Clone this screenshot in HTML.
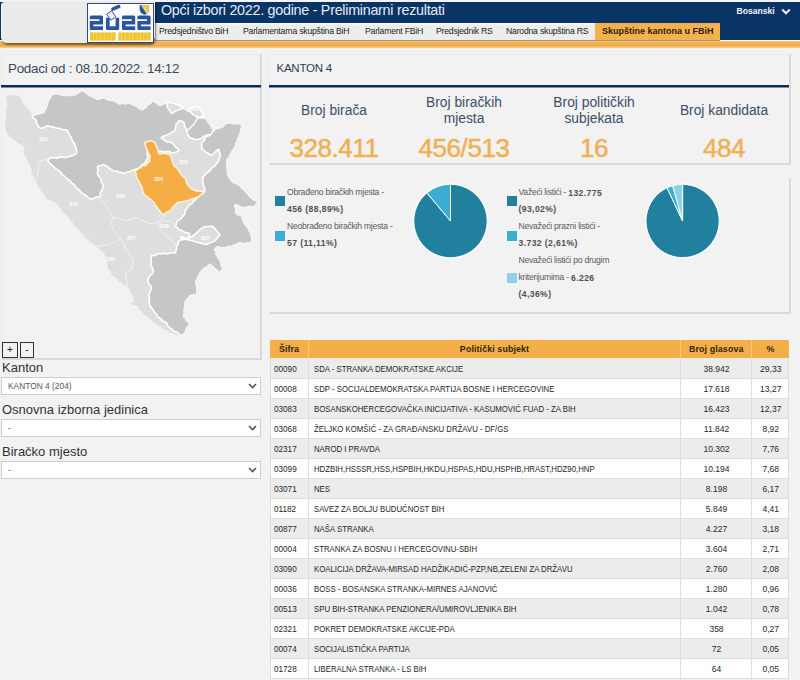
<!DOCTYPE html>
<html><head><meta charset="utf-8">
<style>
*{box-sizing:border-box;margin:0;padding:0}
html,body{width:800px;height:680px;overflow:hidden;background:#f2f2f2;font-family:"Liberation Sans",sans-serif;position:relative}
.abs{position:absolute}
#topline{left:0;top:0;width:800px;height:2px;background:#f4f4f4}
#navy{left:0;top:2px;width:800px;height:38px;background:#0b3466}
#orange{left:0;top:40px;width:800px;height:9px;background:linear-gradient(#fdf6e6 0,#fdf6e6 1px,#f1b75e 1.6px,#f3b14c 3px,#efae4c 6px,#f2c07a 7.4px,#fbf1e0 8px,#f2f2f2 9px)}
#logobox{left:1px;top:2px;width:154px;height:40.5px;background:#ebebeb;border-left:1px solid #f8fafc;border-radius:4px 0 6px 6px;box-shadow:1px 1.5px 2px rgba(0,0,0,.5)}
#logo{left:87px;top:3px;width:67px;height:40px;background:#fff;border:1px solid #30466e;box-shadow:1px 1px 1px rgba(0,0,0,.4)}
#title{left:161px;top:2px;font-size:14.3px;letter-spacing:-0.26px;line-height:16px;color:#e2ecf7;white-space:nowrap}
#tabs{left:155px;top:22.5px;width:440px;height:17.5px;background:linear-gradient(#fbfbfb 0,#fbfbfb 1px,#ededed 2px,#ececec 100%)}
.tab{position:absolute;top:21.8px;height:18px;font-size:8.7px;letter-spacing:-0.23px;line-height:18px;color:#1c1c1c;white-space:nowrap}
#tabact{left:595px;top:22.5px;width:125px;height:17.5px;background:#f5b14e}
#lang{left:736.5px;top:4px;font-size:8.6px;font-weight:bold;color:#eef4fb;line-height:14px}
.panel{position:absolute;background:#f2f2f2;border-top:1px solid #e8e8e8;border-left:1px solid #ededed;border-right:2px solid #d9d9d9;border-bottom:2px solid #d9d9d9}
.bline{position:absolute;height:3px;background:linear-gradient(#0d2b4e 0,#0d2b4e 2px,#8090a4 2.5px,#dfe4ea 3px)}
.lbl{position:absolute;left:2px;font-size:13px;line-height:15px;color:#333}
.sel{position:absolute;left:1px;width:260px;height:18px;background:#fff;border:1px solid #cdcdcd;font-size:8.4px;line-height:16.4px;color:#555;padding-left:6px}
.sel svg{position:absolute;right:3px;top:5px}
.st{position:absolute;width:130px;text-align:center;font-size:13.8px;line-height:15.4px;color:#3c4e66}
.num{position:absolute;width:130px;text-align:center;font-size:26px;letter-spacing:-0.45px;line-height:26px;color:#f0b052;-webkit-text-stroke:0.5px #f0b052;margin-top:-2.1px}
.lg{position:absolute;font-size:8.6px;letter-spacing:-0.24px;line-height:16.5px;color:#5a5a5a;white-space:nowrap;margin-top:0.8px}
.lg b{color:#505050;font-size:8.6px;letter-spacing:0.4px;position:relative;top:0.8px}
.sq{position:absolute;width:10px;height:10px}
#tbl{left:270px;top:340px;width:519px;height:340px}
.th{position:absolute;top:340px;height:18px;background:#f5af48;font-size:8.9px;font-weight:bold;line-height:19.6px;letter-spacing:0.1px;text-align:center;color:#2e2410}
.tr{position:absolute;left:270px;width:519px;height:20px;border-bottom:1px solid #dedede;font-size:9px;line-height:19px;color:#262626}
.tr.g{background:#ececec}
.tr.w{background:#fff}
.tr span{position:absolute;top:1.2px;white-space:nowrap}
.r1 span{top:2.2px}
.c1{left:4px;transform:scaleX(0.907);transform-origin:0 0}
.c2{left:43.5px;transform:scaleX(0.865);transform-origin:0 0}
.c3{left:410.5px;width:71px;text-align:center;transform:scaleX(0.945)}
.c4{left:481.5px;width:37.5px;text-align:center;transform:scaleX(0.945)}
.vl{position:absolute;top:340px;width:1px;height:340px;background:#dedede}
</style></head><body>
<div class="abs" id="topline"></div>
<div class="abs" id="navy"></div>
<div class="abs" id="tabs"></div>
<div class="abs" id="tabact"></div>
<div class="abs" id="orange"></div>
<div class="abs" style="left:155px;top:40px;width:565px;height:1.2px;background:#8a7058;opacity:.75"></div>
<div class="abs" id="logobox"></div>
<svg class="abs" style="left:87px;top:3px" width="67" height="40" viewBox="0 0 67 40">
<rect x="0.5" y="0.5" width="66" height="39" fill="#fbfdff" stroke="#34497a" stroke-width="1"/>
<path d="M4.30 12.6 H14.50 Q16.00 12.6 16.00 14.10 V21.55 H6.40 V23.30 H16.00 V26.9 H4.00 Q2.8 26.9 2.8 25.70 V17.95 H12.40 V16.20 H2.8 V14.10 Q2.8 12.6 4.30 12.6 Z" fill="#2b54a0"/>
<path d="M19 14.8 H22.60 V23.30 H28.60 V14.8 H32.20 V25.40 Q32.20 26.9 30.70 26.9 H20.50 Q19 26.9 19 25.40 Z" fill="#2b54a0"/>
<path d="M36.50 12.6 H46.70 Q48.20 12.6 48.20 14.10 V21.55 H38.60 V23.30 H48.20 V26.9 H36.20 Q35 26.9 35 25.70 V17.95 H44.60 V16.20 H35 V14.10 Q35 12.6 36.50 12.6 Z" fill="#2b54a0"/>
<path d="M51.90 12.6 H62.10 Q63.60 12.6 63.60 14.10 V21.55 H54.00 V23.30 H63.60 V26.9 H51.60 Q50.4 26.9 50.4 25.70 V17.95 H60.00 V16.20 H50.4 V14.10 Q50.4 12.6 51.90 12.6 Z" fill="#2b54a0"/>
<g transform="translate(24.3,12.6) rotate(-35)"><rect x="-3" y="-3.8" width="6" height="7.4" fill="#e9eff9" stroke="#2b54a0" stroke-width="0.9"/></g>
<g transform="translate(28.8,4.8) rotate(-24)"><rect x="-4.8" y="-1.7" width="9.6" height="3.4" rx="1.2" fill="#2b54a0"/></g>
<path d="M52.8 2 H61.8 V7 Q61.8 10.6 57.6 11.8 Q52.8 10.4 52.6 6 Z" fill="#2b54a0"/>
<path d="M55 2 H61.8 V7 Q61.8 9.5 60 10.8 Z" fill="#f3cc3d"/>
<path d="M54.6 2.4 L60.2 10.6" stroke="#fff" stroke-width="0.9"/>
<rect x="3" y="29.4" width="25.5" height="8.2" fill="#f6d766"/>
<rect x="3.0" y="29.6" width="3.0" height="7.8" fill="#eec534"/>
<rect x="6.8" y="29.6" width="2.6" height="7.8" fill="#eec534"/>
<rect x="10.2" y="29.6" width="3.0" height="7.8" fill="#eec534"/>
<rect x="14.0" y="29.6" width="3.4" height="7.8" fill="#eec534"/>
<rect x="18.2" y="29.6" width="2.6" height="7.8" fill="#eec534"/>
<rect x="21.6" y="29.6" width="2.6" height="7.8" fill="#eec534"/>
<rect x="25.0" y="29.6" width="3.4" height="7.8" fill="#eec534"/>
<rect x="31.5" y="29.4" width="32.0" height="8.2" fill="#f6d766"/>
<rect x="31.5" y="29.6" width="2.6" height="7.8" fill="#eec534"/>
<rect x="34.9" y="29.6" width="3.0" height="7.8" fill="#eec534"/>
<rect x="38.7" y="29.6" width="3.4" height="7.8" fill="#eec534"/>
<rect x="42.9" y="29.6" width="2.6" height="7.8" fill="#eec534"/>
<rect x="46.3" y="29.6" width="3.4" height="7.8" fill="#eec534"/>
<rect x="50.5" y="29.6" width="2.6" height="7.8" fill="#eec534"/>
<rect x="53.9" y="29.6" width="2.6" height="7.8" fill="#eec534"/>
<rect x="57.3" y="29.6" width="2.6" height="7.8" fill="#eec534"/>
<rect x="60.7" y="29.6" width="2.8" height="7.8" fill="#eec534"/>
</svg>
<div class="abs" id="title">Opći izbori 2022. godine - Preliminarni rezultati</div>
<div class="tab" style="left:159px">Predsjedništvo BiH</div>
<div class="tab" style="left:243px">Parlamentarna skupština BiH</div>
<div class="tab" style="left:365px">Parlament FBiH</div>
<div class="tab" style="left:436px">Predsjednik RS</div>
<div class="tab" style="left:506px">Narodna skupština RS</div>
<div class="tab" style="left:602px;top:21.6px;font-weight:bold;font-size:9px;letter-spacing:0;color:#2b2110">Skupštine kantona u FBiH</div>
<div class="abs" id="lang">Bosanski</div>
<svg class="abs" style="left:781px;top:7.5px" width="10" height="7" viewBox="0 0 10 7"><path d="M1.2 1.5 L5 5.3 L8.8 1.5" fill="none" stroke="#eef4fb" stroke-width="2"/></svg>

<!-- left panel -->
<div class="panel" style="left:1px;top:54px;width:261px;height:306px"></div>
<div class="abs" style="left:8px;top:61px;font-size:13.4px;letter-spacing:-0.26px;line-height:16px;color:#3b4a5e">Podaci od : 08.10.2022. 14:12</div>
<div class="bline" style="left:1px;top:85px;width:260px"></div>
<!--MAP--><svg class="abs" style="left:0;top:0" width="270" height="345" viewBox="0 0 270 345">
<polygon points="6.00,95.00 8.17,94.64 10.33,94.43 12.50,94.29 14.67,94.40 16.83,94.25 19.00,95.00 20.46,96.62 21.74,98.37 22.98,100.14 23.43,102.45 25.00,104.00 26.13,106.05 27.96,107.57 29.64,109.20 30.77,111.25 32.11,113.15 33.50,115.00 35.63,114.54 37.82,114.28 39.87,113.47 41.90,112.59 44.10,112.40 44.43,110.09 46.14,108.30 46.50,106.00 47.70,102.60 48.22,100.53 49.52,98.84 50.50,97.00 51.48,95.19 53.00,93.80 55.35,93.68 57.70,93.71 60.00,94.30 61.92,95.21 63.93,95.36 65.97,95.29 68.06,94.77 70.00,95.50 71.86,94.40 74.04,94.90 76.00,94.30 77.84,93.26 79.36,91.80 81.00,90.50 83.08,91.03 85.00,92.00 87.02,93.31 88.81,94.94 91.00,96.00 93.31,96.69 95.34,97.98 97.50,99.00 99.72,98.75 101.83,98.00 104.00,97.50 106.48,98.79 109.00,100.00 110.98,100.39 112.99,100.42 115.00,100.50 116.32,102.16 118.27,102.93 120.00,104.00 122.16,103.06 124.54,103.50 126.83,103.37 129.00,102.50 130.87,103.76 132.93,104.64 135.00,105.50 137.10,106.07 138.62,107.75 140.28,109.15 142.50,109.50 144.15,108.16 146.10,107.17 147.08,105.02 149.00,104.00 151.00,102.35 153.00,100.70 156.20,102.20 157.89,104.22 160.30,105.30 162.50,104.54 164.42,103.21 166.50,102.20 168.81,103.19 171.25,103.22 173.70,103.20 176.19,104.03 178.63,104.95 180.90,106.30 182.81,107.38 185.10,106.95 186.91,108.41 189.10,108.40 191.11,107.54 193.40,107.49 195.30,106.30 197.66,106.75 199.40,108.40 200.96,109.90 201.51,111.99 203.11,113.48 203.60,115.60 204.25,117.66 206.36,118.71 207.46,120.46 208.31,122.39 210.01,123.72 210.87,125.63 211.80,127.50 214.15,128.20 216.58,128.28 219.00,128.50 220.72,127.07 223.00,126.48 224.22,124.30 226.27,123.36 228.30,122.40 230.53,122.93 232.76,123.51 235.06,123.20 237.33,123.34 239.60,123.40 241.34,124.76 242.70,126.50 241.35,128.33 241.29,130.65 240.45,132.68 239.60,134.70 239.27,136.89 237.82,138.71 237.50,140.90 236.22,143.19 235.76,145.84 234.40,148.10 232.93,150.10 231.95,152.42 230.30,154.30 229.39,157.24 227.20,159.40 227.30,161.47 226.94,163.55 226.55,165.62 227.20,167.70 227.24,169.78 228.42,171.71 227.41,173.93 228.30,175.90 229.73,177.57 230.61,179.65 232.20,181.20 233.89,182.76 236.07,183.32 237.94,184.50 240.10,185.10 240.94,187.14 242.57,188.54 244.60,189.63 245.40,191.70 247.28,193.15 248.81,194.94 250.16,196.92 252.00,198.40 253.95,199.77 256.28,200.57 258.00,202.30 256.34,204.29 254.70,206.30 252.63,207.00 250.41,206.44 248.30,206.75 246.27,207.77 244.10,207.60 241.69,207.25 239.36,206.61 237.28,205.10 234.80,205.00 234.74,207.04 236.04,208.85 235.48,210.97 236.10,212.90 238.00,214.58 240.50,215.00 242.14,216.76 242.64,219.10 243.60,221.20 244.37,223.36 245.60,225.30 247.56,226.97 248.86,229.08 249.70,231.50 250.97,233.37 251.39,235.54 251.80,237.70 252.03,240.39 250.80,242.80 248.09,242.75 245.60,243.80 243.52,243.56 241.44,243.30 239.40,242.80 237.02,244.26 234.30,244.90 232.48,246.36 230.22,246.64 227.88,246.71 226.00,248.00 223.71,247.62 221.32,248.10 219.10,247.18 216.80,246.90 214.70,250.00 216.19,251.84 216.17,254.43 217.80,256.20 218.43,258.47 220.38,260.08 220.90,262.40 221.14,264.62 221.98,266.64 223.00,268.60 221.37,271.14 218.80,272.70 216.79,270.61 214.70,268.60 212.56,266.59 210.60,264.40 208.63,265.04 207.49,267.06 205.40,267.50 203.54,269.08 201.78,270.75 200.30,272.70 199.68,274.95 197.98,276.66 197.58,279.03 196.20,280.90 196.04,283.17 196.76,285.38 196.98,287.63 196.97,289.89 197.06,292.14 197.10,294.40 194.65,294.98 192.17,295.41 189.70,295.90 188.57,298.12 186.83,299.88 185.30,301.80 184.82,303.87 185.26,306.04 184.56,308.09 184.22,310.18 184.89,312.37 183.63,314.36 183.80,316.50 185.54,318.11 186.46,320.38 188.55,321.71 189.70,323.80 188.57,325.98 186.89,327.90 185.92,330.16 185.30,332.60 183.40,334.32 180.90,334.90 178.87,335.32 177.00,336.20 174.92,335.35 172.68,334.91 170.70,333.80 168.40,333.24 166.78,331.54 165.00,330.11 162.58,329.77 161.00,328.00 159.37,326.42 157.11,325.82 155.37,324.41 153.50,323.20 151.82,322.04 150.43,320.51 148.60,319.54 147.44,317.73 145.99,316.29 144.00,315.50 142.08,314.35 141.43,312.03 139.39,310.99 137.97,309.38 137.16,307.21 135.30,306.00 133.01,305.86 131.17,304.54 128.96,304.19 127.10,302.90 129.22,302.48 131.35,302.13 133.20,300.90 132.53,298.83 132.50,296.56 131.20,294.70 129.69,293.27 129.21,291.05 127.75,289.58 126.57,287.89 125.00,286.50 123.00,285.73 121.39,284.45 120.27,282.53 118.01,282.11 116.80,280.30 115.49,278.51 113.96,276.94 111.64,276.16 110.60,274.10 110.09,271.79 108.18,270.18 107.09,268.17 106.50,265.90 106.77,263.70 106.00,261.71 105.63,259.64 105.54,257.51 104.40,255.60 103.27,253.63 101.57,252.23 99.73,250.97 98.20,249.40 96.48,248.26 95.36,246.33 93.33,245.62 92.09,243.85 90.00,243.20 88.43,241.83 87.56,239.75 85.17,239.20 84.00,237.43 83.15,235.34 81.61,233.93 79.70,232.90 78.88,230.97 76.92,230.00 75.75,228.36 74.28,226.97 72.89,225.52 72.44,223.29 70.56,222.25 69.40,220.60 68.61,218.64 67.25,217.14 65.67,215.84 64.64,214.07 62.59,213.16 61.36,211.56 60.67,209.52 59.10,208.20 57.42,206.18 55.76,204.14 53.50,202.70 51.27,201.54 48.87,200.80 46.50,200.00 45.26,198.28 44.69,196.12 43.00,194.70 41.95,192.74 39.96,191.50 39.56,189.05 37.70,187.70 37.00,185.54 35.53,183.73 35.00,181.50 33.20,178.80 32.27,175.97 30.60,173.50 30.82,171.16 30.39,168.96 29.70,166.81 28.80,164.70 27.42,162.48 26.54,160.00 25.30,157.70 24.36,155.20 22.60,153.20 22.65,150.92 23.50,148.80 21.80,145.30 18.75,144.25 16.98,143.14 15.09,142.19 13.75,140.50 11.54,138.67 8.75,138.00 7.74,135.77 6.26,133.83 5.00,131.75 4.95,129.65 3.94,127.65 4.40,125.50 4.50,123.36 4.67,121.23 5.60,119.25 4.71,117.23 5.72,115.03 5.00,113.00 4.77,110.39 5.25,107.90 6.25,105.50 6.61,102.91 5.60,100.50 5.65,97.74" fill="#dedede"/>
<polyline points="47.60,159.50 45.52,159.80 43.56,160.64 41.55,161.25 39.40,161.20 38.32,163.75 38.10,166.50 38.32,168.72 38.11,170.91 37.41,173.08 37.60,175.30 36.71,177.59 36.26,179.98 35.90,182.40" fill="none" stroke="#f4f4f4" stroke-width="0.9"/>
<polyline points="99.40,197.00 100.69,199.10 102.52,200.75 104.00,202.70 105.04,204.59 106.40,206.28 107.01,208.44 108.09,210.30 109.73,211.82 111.15,213.48 111.72,215.66 113.00,217.40 112.35,219.88 111.45,222.28 110.60,224.70 111.99,226.20 113.00,227.93 113.69,229.85 114.65,231.62 115.69,233.33 116.80,235.00 119.01,236.89 120.90,239.10 118.74,239.75 116.85,241.02 114.76,241.82 112.66,242.63 110.66,243.63 108.72,244.80 106.50,245.30 104.40,245.14 102.31,245.19 100.25,245.71 98.17,245.88 96.08,245.89 94.00,246.00" fill="none" stroke="#f4f4f4" stroke-width="0.9"/>
<polyline points="113.00,217.40 115.12,217.64 117.18,218.20 119.25,218.73 121.31,219.28 123.49,219.27 125.43,220.37 127.60,220.40 129.96,220.04 132.10,219.06 134.21,217.95 136.50,217.40 138.32,218.65 140.33,219.51 142.41,220.22 144.39,221.16 146.32,222.19 148.20,223.30 150.40,223.62 152.60,223.37 154.80,222.99 157.00,223.30 158.96,222.77 160.89,222.16 162.89,221.82 164.79,221.06 166.91,221.20 168.80,220.40 170.13,222.16 172.17,223.12 173.57,224.80 175.30,226.10" fill="none" stroke="#f4f4f4" stroke-width="0.9"/>
<polyline points="120.90,239.10 121.79,241.24 123.34,243.05 124.41,245.10 124.81,247.48 126.27,249.33 127.10,251.50 128.44,253.05 129.17,255.05 130.84,256.36 132.12,257.96 133.20,259.70 132.68,261.74 132.62,263.86 131.82,265.84 131.96,268.01 131.20,270.00 129.09,271.30 126.91,272.50 125.00,274.10 125.80,276.08 125.46,278.30 126.71,280.19 126.41,282.40 127.10,284.40 127.89,286.51 128.37,288.75 129.41,290.77 130.56,292.75 131.00,295.00" fill="none" stroke="#f4f4f4" stroke-width="0.9"/>
<polyline points="165.90,215.10 164.22,217.08 162.24,218.70 160.00,220.00 158.23,221.40 157.00,223.30 158.38,224.82 158.76,226.92 159.77,228.65 161.09,230.21 162.00,232.00 163.58,233.60 165.53,234.78 167.13,236.36 168.82,237.83 170.28,239.56 172.00,241.00 173.73,242.49 175.17,244.24 176.60,246.00" fill="none" stroke="#f4f4f4" stroke-width="0.9"/>
<polyline points="136.50,168.90 135.30,172.10" fill="none" stroke="#f4f4f4" stroke-width="0.9"/>
<polygon points="33.50,115.00 35.63,114.54 37.82,114.28 39.87,113.47 41.90,112.59 44.10,112.40 44.43,110.09 46.14,108.30 46.50,106.00 47.70,102.60 48.22,100.53 49.52,98.84 50.50,97.00 51.48,95.19 53.00,93.80 55.35,93.68 57.70,93.71 60.00,94.30 61.92,95.21 63.93,95.36 65.97,95.29 68.06,94.77 70.00,95.50 71.86,94.40 74.04,94.90 76.00,94.30 77.84,93.26 79.36,91.80 81.00,90.50 83.08,91.03 85.00,92.00 87.02,93.31 88.81,94.94 91.00,96.00 93.31,96.69 95.34,97.98 97.50,99.00 99.72,98.75 101.83,98.00 104.00,97.50 106.48,98.79 109.00,100.00 110.98,100.39 112.99,100.42 115.00,100.50 116.32,102.16 118.27,102.93 120.00,104.00 122.16,103.06 124.54,103.50 126.83,103.37 129.00,102.50 130.87,103.76 132.93,104.64 135.00,105.50 137.10,106.07 138.62,107.75 140.28,109.15 142.50,109.50 144.15,108.16 146.10,107.17 147.08,105.02 149.00,104.00 151.00,102.35 153.00,100.70 156.20,102.20 157.89,104.22 160.30,105.30 162.50,104.54 164.42,103.21 166.50,102.20 168.81,103.19 171.25,103.22 173.70,103.20 176.19,104.03 178.63,104.95 180.90,106.30 182.81,107.38 185.10,106.95 186.91,108.41 189.10,108.40 191.11,107.54 193.40,107.49 195.30,106.30 197.66,106.75 199.40,108.40 200.96,109.90 201.51,111.99 203.11,113.48 203.60,115.60 204.25,117.66 206.36,118.71 207.46,120.46 208.31,122.39 210.01,123.72 210.87,125.63 211.80,127.50 214.90,129.60 213.11,130.98 211.94,132.87 210.70,134.70 208.07,134.79 205.60,135.70 203.54,136.18 202.28,138.01 200.40,138.80 198.00,139.30 195.60,139.46 193.20,138.80 190.33,137.78 188.10,135.70 187.42,133.13 186.87,130.52 186.00,128.00 184.37,126.24 184.52,123.62 183.00,121.80 181.01,120.82 178.80,120.70 177.91,122.52 176.21,123.86 175.70,125.90 175.41,128.49 174.70,131.00 172.51,131.79 170.59,133.11 168.50,134.10 166.57,135.10 164.65,136.13 162.40,136.20 161.30,138.30 163.77,139.23 165.40,141.30 167.84,141.98 170.45,142.05 172.70,143.40 174.31,145.22 175.66,147.30 177.80,148.60 178.80,150.60 176.44,152.10 173.70,152.70 171.10,152.45 168.80,151.20 166.74,151.88 164.68,151.58 162.62,151.78 160.56,150.92 158.50,151.20 157.16,149.20 157.00,146.80 155.12,145.78 153.93,144.07 152.72,142.38 151.20,141.00 149.13,141.04 147.41,142.54 145.30,142.40 146.21,144.55 146.80,146.80 146.84,149.19 147.45,151.51 147.00,153.96 147.81,156.25 148.20,158.60 146.37,159.70 145.71,161.95 144.34,163.51 142.40,164.50 140.70,166.33 138.87,167.98 136.50,168.90 134.55,169.68 132.56,170.35 130.64,171.22 128.60,171.75 126.52,172.18 124.70,173.30 122.66,173.18 120.80,172.32 118.73,172.35 117.02,170.90 114.84,171.34 113.00,170.40 111.04,169.48 109.24,168.34 107.87,166.54 105.67,166.00 104.10,164.50 102.17,165.11 100.22,165.67 98.20,165.90 97.41,167.87 98.53,170.01 97.40,171.95 97.50,174.00 98.47,175.91 100.02,177.54 100.93,179.48 101.17,181.77 102.43,183.53 103.30,185.50 102.97,187.53 102.30,189.43 100.97,191.12 100.37,193.05 100.61,195.27 99.40,197.00 96.94,197.05 94.64,197.91 92.33,198.68 89.90,198.90 88.24,197.69 86.74,196.28 85.15,194.99 83.34,193.96 81.56,192.91 80.30,191.20 78.92,189.72 77.11,188.67 75.74,187.17 74.55,185.50 73.31,183.87 71.35,182.97 70.56,180.90 68.80,179.80 66.82,178.72 65.27,177.13 63.73,175.54 61.88,174.30 60.79,172.19 59.02,170.87 57.25,169.54 55.40,168.30 53.88,166.78 52.11,165.51 50.66,163.92 49.05,162.49 47.80,160.70 49.70,157.80 51.82,157.60 53.97,158.03 56.07,157.62 58.22,158.02 60.28,156.66 62.42,156.88 64.59,157.72 66.69,157.17 68.80,156.80 70.78,155.96 72.96,155.53 74.87,154.54 76.50,153.00 76.65,150.48 76.27,148.06 75.10,145.80 74.60,143.40 72.87,141.87 72.05,139.80 71.37,137.66 70.08,135.87 69.07,133.92 68.22,131.87 66.90,130.10 64.51,129.72 62.07,129.55 59.83,128.38 57.40,128.20 55.09,127.85 52.92,126.69 50.53,126.82 48.32,125.91 45.90,126.20 44.23,127.53 42.24,127.94 40.20,128.20 38.48,126.80 37.80,124.75 36.36,123.17 36.37,120.70 35.00,119.09 33.14,117.77 32.50,115.70" fill="#c6c6c6" stroke="#fff" stroke-width="1.6" stroke-linejoin="round"/>
<polygon points="211.80,127.50 214.15,128.20 216.58,128.28 219.00,128.50 220.72,127.07 223.00,126.48 224.22,124.30 226.27,123.36 228.30,122.40 230.53,122.93 232.76,123.51 235.06,123.20 237.33,123.34 239.60,123.40 241.34,124.76 242.70,126.50 241.35,128.33 241.29,130.65 240.45,132.68 239.60,134.70 239.27,136.89 237.82,138.71 237.50,140.90 236.22,143.19 235.76,145.84 234.40,148.10 232.93,150.10 231.95,152.42 230.30,154.30 229.39,157.24 227.20,159.40 227.30,161.47 226.94,163.55 226.55,165.62 227.20,167.70 227.24,169.78 228.42,171.71 227.41,173.93 228.30,175.90 229.73,177.57 230.61,179.65 232.20,181.20 233.89,182.76 236.07,183.32 237.94,184.50 240.10,185.10 240.94,187.14 242.57,188.54 244.60,189.63 245.40,191.70 247.28,193.15 248.81,194.94 250.16,196.92 252.00,198.40 253.95,199.77 256.28,200.57 258.00,202.30 256.34,204.29 254.70,206.30 252.63,207.00 250.41,206.44 248.30,206.75 246.27,207.77 244.10,207.60 241.69,207.25 239.36,206.61 237.28,205.10 234.80,205.00 234.74,207.04 236.04,208.85 235.48,210.97 236.10,212.90 238.00,214.58 240.50,215.00 242.14,216.76 242.64,219.10 243.60,221.20 244.37,223.36 245.60,225.30 247.56,226.97 248.86,229.08 249.70,231.50 250.97,233.37 251.39,235.54 251.80,237.70 252.03,240.39 250.80,242.80 248.09,242.75 245.60,243.80 243.52,243.56 241.44,243.30 239.40,242.80 237.02,244.26 234.30,244.90 232.48,246.36 230.22,246.64 227.88,246.71 226.00,248.00 223.71,247.62 221.32,248.10 219.10,247.18 216.80,246.90 214.70,250.00 216.19,251.84 216.17,254.43 217.80,256.20 218.43,258.47 220.38,260.08 220.90,262.40 221.14,264.62 221.98,266.64 223.00,268.60 221.37,271.14 218.80,272.70 216.79,270.61 214.70,268.60 212.56,266.59 210.60,264.40 208.63,265.04 207.49,267.06 205.40,267.50 203.54,269.08 201.78,270.75 200.30,272.70 199.68,274.95 197.98,276.66 197.58,279.03 196.20,280.90 196.04,283.17 196.76,285.38 196.98,287.63 196.97,289.89 197.06,292.14 197.10,294.40 194.65,294.98 192.17,295.41 189.70,295.90 188.57,298.12 186.83,299.88 185.30,301.80 184.82,303.87 185.26,306.04 184.56,308.09 184.22,310.18 184.89,312.37 183.63,314.36 183.80,316.50 185.54,318.11 186.46,320.38 188.55,321.71 189.70,323.80 188.57,325.98 186.89,327.90 185.92,330.16 185.30,332.60 183.40,334.32 180.90,334.90 178.67,334.14 177.13,332.08 174.79,331.53 172.70,330.50 171.38,328.54 169.15,327.43 167.66,325.62 166.79,323.24 164.70,322.00 162.49,321.07 161.33,318.79 159.20,317.76 157.40,316.30 156.58,314.08 154.56,312.68 153.63,310.55 152.15,308.78 150.92,306.84 149.70,304.90 149.28,302.52 149.30,300.10 149.51,297.65 148.80,295.30 149.05,293.23 150.36,291.56 150.83,289.57 151.60,287.70 150.64,285.78 149.03,284.18 148.09,282.25 147.80,280.00 148.70,277.94 149.51,275.82 151.70,274.53 152.82,272.59 153.50,270.40 152.55,268.51 151.81,266.52 150.70,264.70 151.17,262.35 151.32,259.97 151.02,257.54 151.60,255.20 153.90,255.61 156.03,254.92 158.08,253.74 160.29,253.60 162.52,253.58 164.70,253.20 166.76,253.91 168.82,253.56 170.88,252.82 172.94,252.67 175.00,253.20 175.90,250.88 176.59,248.52 176.60,246.00 178.21,243.97 178.73,241.28 180.60,239.40 183.23,239.81 185.87,238.68 188.50,239.40 188.94,236.70 189.80,234.10 187.90,232.79 185.52,232.71 183.55,231.57 181.59,230.40 179.30,230.10 177.57,227.83 175.30,226.10 176.41,224.30 176.60,222.20 177.88,220.18 180.22,219.22 181.89,217.59 183.20,215.60 184.83,214.06 184.77,211.57 186.11,209.87 187.03,207.93 188.50,206.30 189.92,204.54 192.10,203.55 193.05,201.31 195.04,200.12 196.50,198.40 198.17,196.77 199.78,195.07 202.06,194.09 203.75,192.48 205.00,190.40 204.51,188.16 203.75,186.00 203.10,183.80 202.42,181.58 203.22,179.22 202.50,177.00 204.44,175.84 205.60,173.90 207.44,172.66 209.21,171.36 210.70,169.70 212.05,167.60 214.39,166.53 215.90,164.60 217.06,162.94 218.39,161.38 219.00,159.40 219.87,157.46 220.21,155.42 220.00,153.30 218.94,151.33 219.00,149.10 215.90,151.20 213.85,153.25 211.80,155.30 209.66,154.42 207.89,152.79 205.60,152.20 203.66,150.04 201.50,148.10 201.78,145.55 201.50,143.00 203.47,141.34 204.81,139.25 205.60,136.80 208.24,135.96 210.70,134.70 211.94,132.87 213.11,130.98 214.90,129.60" fill="#c6c6c6" stroke="#fff" stroke-width="1.6" stroke-linejoin="round"/>
<polyline points="183.00,108.40 185.22,109.08 187.00,110.66 189.19,111.39 191.20,112.50 192.89,113.63 194.43,114.95 195.95,116.28 197.40,117.70 199.80,117.64 202.20,117.99 204.60,117.70" fill="none" stroke="#fff" stroke-width="1.4" stroke-linejoin="round"/>
<polyline points="197.40,117.70 196.66,119.88 195.33,121.77 194.30,123.80 192.57,125.53 190.74,127.18 189.10,129.00 186.00,131.00" fill="none" stroke="#fff" stroke-width="1.4" stroke-linejoin="round"/>
<polygon points="6.00,95.00 8.17,94.64 10.33,94.43 12.50,94.29 14.67,94.40 16.83,94.25 19.00,95.00 20.46,96.62 21.74,98.37 22.98,100.14 23.43,102.45 25.00,104.00 26.13,106.05 27.96,107.57 29.64,109.20 30.77,111.25 32.11,113.15 33.50,115.00 35.63,114.54 37.82,114.28 39.87,113.47 41.90,112.59 44.10,112.40 44.43,110.09 46.14,108.30 46.50,106.00 47.70,102.60 48.22,100.53 49.52,98.84 50.50,97.00 51.48,95.19 53.00,93.80 55.35,93.68 57.70,93.71 60.00,94.30 61.92,95.21 63.93,95.36 65.97,95.29 68.06,94.77 70.00,95.50 71.86,94.40 74.04,94.90 76.00,94.30 77.84,93.26 79.36,91.80 81.00,90.50 83.08,91.03 85.00,92.00 87.02,93.31 88.81,94.94 91.00,96.00 93.31,96.69 95.34,97.98 97.50,99.00 99.72,98.75 101.83,98.00 104.00,97.50 106.48,98.79 109.00,100.00 110.98,100.39 112.99,100.42 115.00,100.50 116.32,102.16 118.27,102.93 120.00,104.00 122.16,103.06 124.54,103.50 126.83,103.37 129.00,102.50 130.87,103.76 132.93,104.64 135.00,105.50 137.10,106.07 138.62,107.75 140.28,109.15 142.50,109.50 144.15,108.16 146.10,107.17 147.08,105.02 149.00,104.00 151.00,102.35 153.00,100.70 156.20,102.20 157.89,104.22 160.30,105.30 162.50,104.54 164.42,103.21 166.50,102.20 168.81,103.19 171.25,103.22 173.70,103.20 176.19,104.03 178.63,104.95 180.90,106.30 182.81,107.38 185.10,106.95 186.91,108.41 189.10,108.40 191.11,107.54 193.40,107.49 195.30,106.30 197.66,106.75 199.40,108.40 200.96,109.90 201.51,111.99 203.11,113.48 203.60,115.60 204.25,117.66 206.36,118.71 207.46,120.46 208.31,122.39 210.01,123.72 210.87,125.63 211.80,127.50 214.15,128.20 216.58,128.28 219.00,128.50 220.72,127.07 223.00,126.48 224.22,124.30 226.27,123.36 228.30,122.40 230.53,122.93 232.76,123.51 235.06,123.20 237.33,123.34 239.60,123.40 241.34,124.76 242.70,126.50 241.35,128.33 241.29,130.65 240.45,132.68 239.60,134.70 239.27,136.89 237.82,138.71 237.50,140.90 236.22,143.19 235.76,145.84 234.40,148.10 232.93,150.10 231.95,152.42 230.30,154.30 229.39,157.24 227.20,159.40 227.30,161.47 226.94,163.55 226.55,165.62 227.20,167.70 227.24,169.78 228.42,171.71 227.41,173.93 228.30,175.90 229.73,177.57 230.61,179.65 232.20,181.20 233.89,182.76 236.07,183.32 237.94,184.50 240.10,185.10 240.94,187.14 242.57,188.54 244.60,189.63 245.40,191.70 247.28,193.15 248.81,194.94 250.16,196.92 252.00,198.40 253.95,199.77 256.28,200.57 258.00,202.30 256.34,204.29 254.70,206.30 252.63,207.00 250.41,206.44 248.30,206.75 246.27,207.77 244.10,207.60 241.69,207.25 239.36,206.61 237.28,205.10 234.80,205.00 234.74,207.04 236.04,208.85 235.48,210.97 236.10,212.90 238.00,214.58 240.50,215.00 242.14,216.76 242.64,219.10 243.60,221.20 244.37,223.36 245.60,225.30 247.56,226.97 248.86,229.08 249.70,231.50 250.97,233.37 251.39,235.54 251.80,237.70 252.03,240.39 250.80,242.80 248.09,242.75 245.60,243.80 243.52,243.56 241.44,243.30 239.40,242.80 237.02,244.26 234.30,244.90 232.48,246.36 230.22,246.64 227.88,246.71 226.00,248.00 223.71,247.62 221.32,248.10 219.10,247.18 216.80,246.90 214.70,250.00 216.19,251.84 216.17,254.43 217.80,256.20 218.43,258.47 220.38,260.08 220.90,262.40 221.14,264.62 221.98,266.64 223.00,268.60 221.37,271.14 218.80,272.70 216.79,270.61 214.70,268.60 212.56,266.59 210.60,264.40 208.63,265.04 207.49,267.06 205.40,267.50 203.54,269.08 201.78,270.75 200.30,272.70 199.68,274.95 197.98,276.66 197.58,279.03 196.20,280.90 196.04,283.17 196.76,285.38 196.98,287.63 196.97,289.89 197.06,292.14 197.10,294.40 194.65,294.98 192.17,295.41 189.70,295.90 188.57,298.12 186.83,299.88 185.30,301.80 184.82,303.87 185.26,306.04 184.56,308.09 184.22,310.18 184.89,312.37 183.63,314.36 183.80,316.50 185.54,318.11 186.46,320.38 188.55,321.71 189.70,323.80 188.57,325.98 186.89,327.90 185.92,330.16 185.30,332.60 183.40,334.32 180.90,334.90 178.87,335.32 177.00,336.20 174.92,335.35 172.68,334.91 170.70,333.80 168.40,333.24 166.78,331.54 165.00,330.11 162.58,329.77 161.00,328.00 159.37,326.42 157.11,325.82 155.37,324.41 153.50,323.20 151.82,322.04 150.43,320.51 148.60,319.54 147.44,317.73 145.99,316.29 144.00,315.50 142.08,314.35 141.43,312.03 139.39,310.99 137.97,309.38 137.16,307.21 135.30,306.00 133.01,305.86 131.17,304.54 128.96,304.19 127.10,302.90 129.22,302.48 131.35,302.13 133.20,300.90 132.53,298.83 132.50,296.56 131.20,294.70 129.69,293.27 129.21,291.05 127.75,289.58 126.57,287.89 125.00,286.50 123.00,285.73 121.39,284.45 120.27,282.53 118.01,282.11 116.80,280.30 115.49,278.51 113.96,276.94 111.64,276.16 110.60,274.10 110.09,271.79 108.18,270.18 107.09,268.17 106.50,265.90 106.77,263.70 106.00,261.71 105.63,259.64 105.54,257.51 104.40,255.60 103.27,253.63 101.57,252.23 99.73,250.97 98.20,249.40 96.48,248.26 95.36,246.33 93.33,245.62 92.09,243.85 90.00,243.20 88.43,241.83 87.56,239.75 85.17,239.20 84.00,237.43 83.15,235.34 81.61,233.93 79.70,232.90 78.88,230.97 76.92,230.00 75.75,228.36 74.28,226.97 72.89,225.52 72.44,223.29 70.56,222.25 69.40,220.60 68.61,218.64 67.25,217.14 65.67,215.84 64.64,214.07 62.59,213.16 61.36,211.56 60.67,209.52 59.10,208.20 57.42,206.18 55.76,204.14 53.50,202.70 51.27,201.54 48.87,200.80 46.50,200.00 45.26,198.28 44.69,196.12 43.00,194.70 41.95,192.74 39.96,191.50 39.56,189.05 37.70,187.70 37.00,185.54 35.53,183.73 35.00,181.50 33.20,178.80 32.27,175.97 30.60,173.50 30.82,171.16 30.39,168.96 29.70,166.81 28.80,164.70 27.42,162.48 26.54,160.00 25.30,157.70 24.36,155.20 22.60,153.20 22.65,150.92 23.50,148.80 21.80,145.30 18.75,144.25 16.98,143.14 15.09,142.19 13.75,140.50 11.54,138.67 8.75,138.00 7.74,135.77 6.26,133.83 5.00,131.75 4.95,129.65 3.94,127.65 4.40,125.50 4.50,123.36 4.67,121.23 5.60,119.25 4.71,117.23 5.72,115.03 5.00,113.00 4.77,110.39 5.25,107.90 6.25,105.50 6.61,102.91 5.60,100.50 5.65,97.74" fill="none" stroke="#f2f2f2" stroke-width="1.7" stroke-linejoin="round"/>
<polygon points="180.5,236.5 187.0,238.5 193.0,236.0 200.3,229.4 204.4,226.8 212.7,226.3 215.5,229.4 219.9,235.0 214.7,241.0 206.0,244.5 198.2,242.5 191.0,240.5 184.0,239.0" fill="#dedede" stroke="#fff" stroke-width="1.6" stroke-linejoin="round"/>
<polygon points="166.5,102.2 173.7,103.2 180.9,106.3 183.0,108.4 176.8,110.4 171.6,113.5 167.5,107.4" fill="#dedede" stroke="#fff" stroke-width="1.6" stroke-linejoin="round"/>
<polygon points="189.1,108.4 195.3,106.3 199.4,108.4 203.6,115.6 199.4,117.7 193.3,114.6 189.1,110.4" fill="#dedede" stroke="#fff" stroke-width="1.6" stroke-linejoin="round"/>
<polygon points="146.25,141.90 148.77,141.32 151.25,140.60 153.14,141.52 155.00,142.50 155.52,145.16 156.90,147.50 158.14,149.40 158.09,151.68 158.75,153.75 161.33,154.01 163.75,153.10 166.18,153.98 168.75,153.75 170.20,155.17 171.25,156.90 171.82,159.41 172.50,161.90 173.75,165.60 175.77,167.00 177.50,168.75 179.40,171.90 181.25,175.00 182.87,176.63 185.00,177.50 185.81,179.95 186.25,182.50 187.55,184.34 188.75,186.25 190.25,187.72 191.82,189.10 193.75,190.00 195.72,190.99 197.86,191.10 200.00,191.25 202.58,191.52 205.00,190.60 203.19,191.73 202.50,193.75 200.34,194.88 198.70,196.86 196.25,197.50 194.17,198.35 191.93,198.79 190.00,200.00 187.90,200.34 185.84,200.89 183.75,201.25 181.79,202.28 179.56,201.96 177.50,202.50 175.64,204.39 173.75,206.25 172.17,207.90 171.25,210.00 168.76,211.26 166.25,212.50 163.75,215.00 161.48,213.52 160.00,211.25 158.69,209.63 157.39,208.00 156.25,206.25 154.94,204.62 154.20,202.58 152.50,201.25 151.23,199.63 149.24,198.92 148.16,197.07 146.25,196.25 144.40,194.53 143.24,192.39 142.50,190.00 142.22,187.70 141.13,185.71 140.00,183.75 139.34,181.74 138.06,180.03 136.89,178.27 136.25,176.25 136.20,173.61 135.00,171.25 137.10,169.95 138.75,168.10 140.86,167.90 142.23,165.90 144.42,165.88 146.25,165.00 147.72,162.72 150.00,161.25 149.31,159.17 150.07,157.08 150.00,155.00 148.25,153.22 147.62,150.76 146.25,148.75 145.66,146.24 145.00,143.75" fill="#f5ae45" stroke="#fff5dc" stroke-width="1.4" stroke-linejoin="round"/>
<text x="43.5" y="141" font-size="5.2" fill="#ffffff" font-weight="bold" text-anchor="middle" font-family="Liberation Sans">201</text>
<text x="73.5" y="206" font-size="5.2" fill="#ffffff" font-weight="bold" text-anchor="middle" font-family="Liberation Sans">210</text>
<text x="120.3" y="197.5" font-size="5.2" fill="#ffffff" font-weight="bold" text-anchor="middle" font-family="Liberation Sans">206</text>
<text x="158.5" y="180.6" font-size="5.2" fill="#ffffff" font-weight="bold" text-anchor="middle" font-family="Liberation Sans">204</text>
<text x="183.5" y="163.5" font-size="5.2" fill="#ffffff" font-weight="bold" text-anchor="middle" font-family="Liberation Sans">203</text>
<text x="164.4" y="227.6" font-size="5.2" fill="#ffffff" font-weight="bold" text-anchor="middle" font-family="Liberation Sans">209</text>
<text x="205" y="240" font-size="5.2" fill="#ffffff" font-weight="bold" text-anchor="middle" font-family="Liberation Sans">205</text>
<text x="131.2" y="240" font-size="5.2" fill="#ffffff" font-weight="bold" text-anchor="middle" font-family="Liberation Sans">207</text>
<text x="110.6" y="260.7" font-size="5.2" fill="#ffffff" font-weight="bold" text-anchor="middle" font-family="Liberation Sans">208</text>
<text x="194" y="111" font-size="5.2" fill="#ffffff" font-weight="bold" text-anchor="middle" font-family="Liberation Sans">202</text>
</svg><!--/MAP-->
<div class="abs" style="left:2px;top:342px;width:16px;height:16px;border:1px solid #333;font-size:10px;line-height:13px;text-align:center;color:#222">+</div>
<div class="abs" style="left:20px;top:342px;width:14px;height:16px;border:1px solid #333;font-size:10px;line-height:13px;text-align:center;color:#222">-</div>

<div class="lbl" style="top:360px">Kanton</div>
<div class="sel" style="top:377px">KANTON 4 (204)<svg width="9" height="6" viewBox="0 0 9 6"><path d="M1 1 L4.5 4.5 L8 1" fill="none" stroke="#555" stroke-width="1.6"/></svg></div>
<div class="lbl" style="top:402px">Osnovna izborna jedinica</div>
<div class="sel" style="top:419px">-<svg width="9" height="6" viewBox="0 0 9 6"><path d="M1 1 L4.5 4.5 L8 1" fill="none" stroke="#555" stroke-width="1.6"/></svg></div>
<div class="lbl" style="top:444px">Biračko mjesto</div>
<div class="sel" style="top:461px">-<svg width="9" height="6" viewBox="0 0 9 6"><path d="M1 1 L4.5 4.5 L8 1" fill="none" stroke="#555" stroke-width="1.6"/></svg></div>

<!-- right stats panel -->
<div class="panel" style="left:269px;top:54px;width:522px;height:111px"></div>
<div class="abs" style="left:276.5px;top:62px;font-size:11.5px;letter-spacing:-0.25px;line-height:13.5px;color:#2d3e55">KANTON 4</div>
<div class="bline" style="left:269px;top:85px;width:520px"></div>
<div class="st" style="left:269px;top:103.2px">Broj birača</div>
<div class="st" style="left:399px;top:95.4px">Broj biračkih<br>mjesta</div>
<div class="st" style="left:529px;top:95.4px">Broj političkih<br>subjekata</div>
<div class="st" style="left:659px;top:103.2px">Broj kandidata</div>
<div class="num" style="left:269px;top:137px">328.411</div>
<div class="num" style="left:399px;top:137px">456/513</div>
<div class="num" style="left:529px;top:137px">16</div>
<div class="num" style="left:659px;top:137px">484</div>

<!-- charts panel -->
<div class="panel" style="left:269px;top:178px;width:522px;height:136px;border-top:none;border-left-color:#f0f0f0"></div>
<div class="sq" style="left:275px;top:196px;background:#21809d"></div>
<div class="lg" style="left:287px;top:183px">Obrađeno biračkih mjesta -<br><b>456 (88,89%)</b></div>
<div class="sq" style="left:275px;top:230.5px;background:#3badd2"></div>
<div class="lg" style="left:287px;top:217px">Neobrađeno biračkih mjesta -<br><b>57 (11,11%)</b></div>
<svg class="abs" style="left:0;top:0" width="800" height="680"><circle cx="450.5" cy="221" r="37.2" fill="none" stroke="#fafdff" stroke-width="1.2"/><circle cx="682.6" cy="221" r="37.1" fill="none" stroke="#fafdff" stroke-width="1.2"/><path d="M450.50 221.00 L450.50 184.30 A36.7 36.7 0 1 1 426.91 192.88 Z" fill="#21809d" stroke="#fff" stroke-width="1" stroke-linejoin="round"/>
<path d="M450.50 221.00 L426.91 192.88 A36.7 36.7 0 0 1 450.50 184.30 Z" fill="#3badd2" stroke="#fff" stroke-width="1" stroke-linejoin="round"/><path d="M682.60 221.00 L682.60 184.40 A36.6 36.6 0 1 1 667.08 187.85 Z" fill="#21809d" stroke="#fff" stroke-width="1" stroke-linejoin="round"/>
<path d="M682.60 221.00 L667.08 187.85 A36.6 36.6 0 0 1 672.70 185.77 Z" fill="#3badd2" stroke="#fff" stroke-width="1" stroke-linejoin="round"/>
<path d="M682.60 221.00 L672.70 185.77 A36.6 36.6 0 0 1 682.60 184.40 Z" fill="#8fd0e6" stroke="#fff" stroke-width="1" stroke-linejoin="round"/></svg>
<div class="sq" style="left:507px;top:196px;background:#21809d"></div>
<div class="lg" style="left:518.5px;top:183px">Važeći listići - <b>132.775</b><br><b>(93,02%)</b></div>
<div class="sq" style="left:507px;top:230.5px;background:#3badd2"></div>
<div class="lg" style="left:518.5px;top:217px">Nevažeći prazni listići -<br><b>3.732 (2,61%)</b></div>
<div class="sq" style="left:507px;top:273px;background:#8fd0e6"></div>
<div class="lg" style="left:518.5px;top:251.5px">Nevažeći listići po drugim<br>kriterijumima - <b>6.226</b><br><b>(4,36%)</b></div>


<!-- table -->
<div class="th" style="left:270px;width:38px">Šifra</div>
<div class="th" style="left:308.5px;width:372px">Politički subjekt</div>
<div class="th" style="left:681px;width:70.5px">Broj glasova</div>
<div class="th" style="left:752px;width:37px">%</div>
<div class="tr g r1" style="top:358px;height:21px"><span class="c1">00090</span><span class="c2">SDA - STRANKA DEMOKRATSKE AKCIJE</span><span class="c3">38.942</span><span class="c4">29,33</span></div>
<div class="tr w" style="top:379px"><span class="c1">00008</span><span class="c2">SDP - SOCIJALDEMOKRATSKA PARTIJA BOSNE I HERCEGOVINE</span><span class="c3">17.618</span><span class="c4">13,27</span></div>
<div class="tr g" style="top:399px"><span class="c1">03083</span><span class="c2">BOSANSKOHERCEGOVAČKA INICIJATIVA - KASUMOVIĆ FUAD - ZA BIH</span><span class="c3">16.423</span><span class="c4">12,37</span></div>
<div class="tr w" style="top:419px"><span class="c1">03068</span><span class="c2">ŽELJKO KOMŠIĆ - ZA GRAĐANSKU DRŽAVU - DF/GS</span><span class="c3">11.842</span><span class="c4">8,92</span></div>
<div class="tr g" style="top:439px"><span class="c1">02317</span><span class="c2">NAROD I PRAVDA</span><span class="c3">10.302</span><span class="c4">7,76</span></div>
<div class="tr w" style="top:459px"><span class="c1">03099</span><span class="c2">HDZBIH,HSSSR,HSS,HSPBIH,HKDU,HSPAS,HDU,HSPHB,HRAST,HDZ90,HNP</span><span class="c3">10.194</span><span class="c4">7,68</span></div>
<div class="tr g" style="top:479px"><span class="c1">03071</span><span class="c2">NES</span><span class="c3">8.198</span><span class="c4">6,17</span></div>
<div class="tr w" style="top:499px"><span class="c1">01182</span><span class="c2">SAVEZ ZA BOLJU BUDUĆNOST BIH</span><span class="c3">5.849</span><span class="c4">4,41</span></div>
<div class="tr g" style="top:519px"><span class="c1">00877</span><span class="c2">NAŠA STRANKA</span><span class="c3">4.227</span><span class="c4">3,18</span></div>
<div class="tr w" style="top:539px"><span class="c1">00004</span><span class="c2">STRANKA ZA BOSNU I HERCEGOVINU-SBIH</span><span class="c3">3.604</span><span class="c4">2,71</span></div>
<div class="tr g" style="top:559px"><span class="c1">03090</span><span class="c2">KOALICIJA DRŽAVA-MIRSAD HADŽIKADIĆ-PZP,NB,ZELENI ZA DRŽAVU</span><span class="c3">2.760</span><span class="c4">2,08</span></div>
<div class="tr w" style="top:579px"><span class="c1">00036</span><span class="c2">BOSS - BOSANSKA STRANKA-MIRNES AJANOVIĆ</span><span class="c3">1.280</span><span class="c4">0,96</span></div>
<div class="tr g" style="top:599px"><span class="c1">00513</span><span class="c2">SPU BIH-STRANKA PENZIONERA/UMIROVLJENIKA BIH</span><span class="c3">1.042</span><span class="c4">0,78</span></div>
<div class="tr w" style="top:619px"><span class="c1">02321</span><span class="c2">POKRET DEMOKRATSKE AKCIJE-PDA</span><span class="c3">358</span><span class="c4">0,27</span></div>
<div class="tr g" style="top:639px"><span class="c1">00074</span><span class="c2">SOCIJALISTIČKA PARTIJA</span><span class="c3">72</span><span class="c4">0,05</span></div>
<div class="tr w" style="top:659px"><span class="c1">01728</span><span class="c2">LIBERALNA STRANKA - LS BIH</span><span class="c3">64</span><span class="c4">0,05</span></div>
<div class="vl" style="left:270px"></div>
<div class="vl" style="left:308px"></div>
<div class="vl" style="left:680px"></div>
<div class="vl" style="left:751px"></div>
<div class="vl" style="left:788px"></div>
<div class="abs" style="left:308px;top:340px;width:1px;height:18px;background:#f8c98a"></div>
<div class="abs" style="left:680px;top:340px;width:1px;height:18px;background:#f8c98a"></div>
<div class="abs" style="left:751px;top:340px;width:1px;height:18px;background:#f8c98a"></div>
<div class="abs" style="left:270px;top:340px;width:1px;height:18px;background:#f5b04f"></div>
<div class="abs" style="left:788px;top:340px;width:1px;height:18px;background:#f5b04f"></div>
</body></html>
